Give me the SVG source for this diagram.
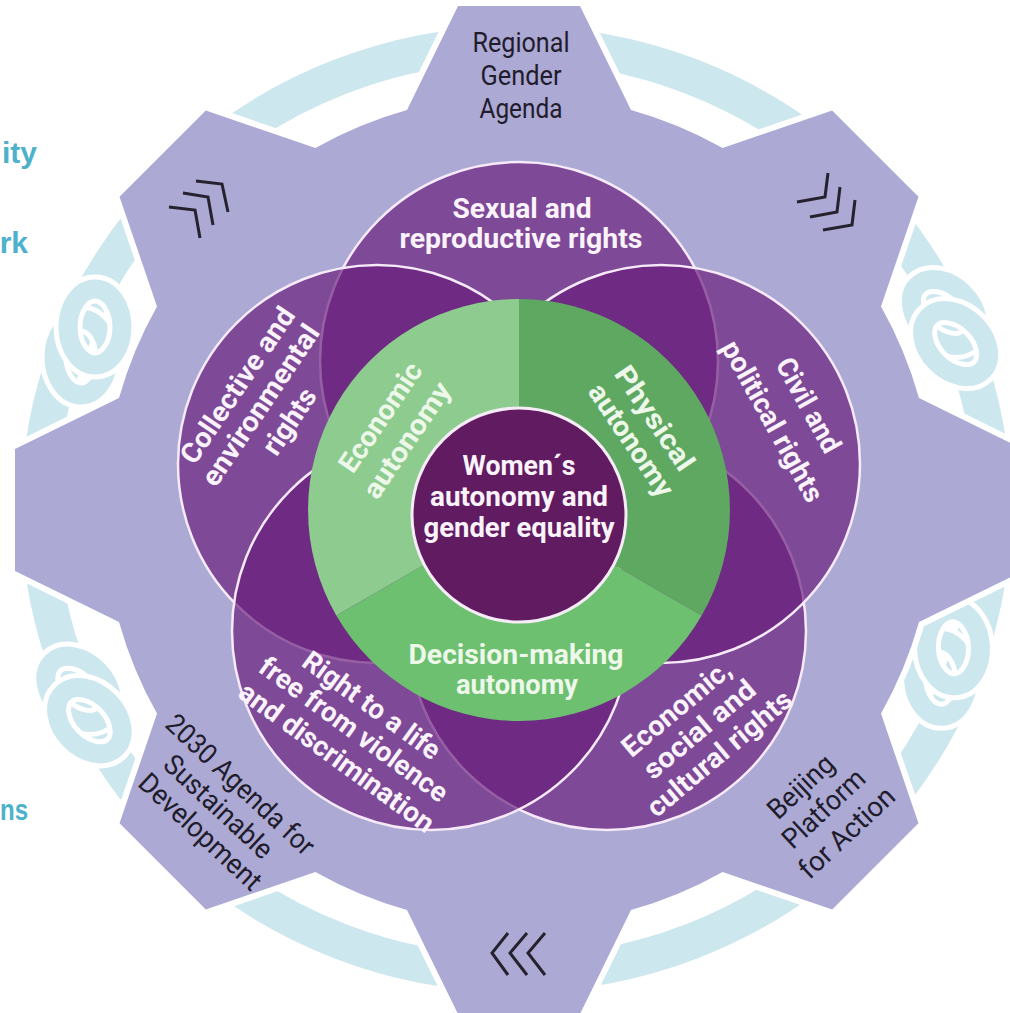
<svg xmlns="http://www.w3.org/2000/svg" xmlns:xlink="http://www.w3.org/1999/xlink" width="1010" height="1013" viewBox="0 0 1010 1013">
<style>
  .rope{fill:none;stroke:#cde7ee}
  .halo{fill:none;stroke:#ffffff}
  .ring{fill:#681c7a;fill-opacity:0.68;stroke:#f6e9f8;stroke-width:2.5}
  .lbl{font-family:Roboto,"Liberation Sans",sans-serif;font-weight:700;font-size:28px;fill:#fbf3fb;text-anchor:middle}
  .glbl{font-family:Roboto,"Liberation Sans",sans-serif;font-weight:700;font-size:28px;fill:#eef8ea;text-anchor:middle}
  .gtxt{font-family:Roboto,"Liberation Sans",sans-serif;font-weight:400;font-size:28px;fill:#1f1c2c;text-anchor:middle}
  .frag{font-family:"Liberation Sans",Arial,sans-serif;font-weight:700;font-size:30px;fill:#4db1cb}
  .chev{fill:none;stroke:#25222e;stroke-width:3;stroke-linejoin:miter}
</style>
<defs>
  <g id="knot">
    <g transform="rotate(-22)">
      <ellipse class="halo" cx="-15" cy="-7" rx="38" ry="27" stroke-width="29"/>
      <ellipse class="rope" cx="-15" cy="-7" rx="38" ry="27" stroke-width="19"/>
      <ellipse class="halo" cx="15" cy="7" rx="38" ry="27" stroke-width="29"/>
      <ellipse class="rope" cx="15" cy="7" rx="38" ry="27" stroke-width="19"/>
    </g>
  </g>
</defs>
<rect width="1010" height="1013" fill="#ffffff"/>

<g id="fragments">
  <text class="frag" x="37" y="163" text-anchor="end">ity</text>
  <text class="frag" x="28" y="253" text-anchor="end">rk</text>
  <text class="frag" x="0" y="820" textLength="28" lengthAdjust="spacingAndGlyphs">ns</text>
</g>

<g id="rope">
  <ellipse class="rope" cx="516" cy="509" rx="477" ry="465" stroke-width="36"/>
  <use xlink:href="#knot" transform="translate(88,342) rotate(-68)"/>
  <use xlink:href="#knot" transform="translate(84,705) rotate(68)"/>
  <use xlink:href="#knot" transform="translate(950,328) rotate(67)"/>
  <use xlink:href="#knot" transform="translate(947,663) rotate(-70)"/>
</g>

<g id="gear">
  <path d="M407,110 L458,6 L580,6 L631,110 A415.4,415.4 0 0 1 722.6,148 L832.2,110.5 L918.5,196.8 L881,306.4 A415.4,415.4 0 0 1 919,398 L1023,449 L1023,571 L919,622 A415.4,415.4 0 0 1 881,713.6 L918.5,823.2 L832.2,909.5 L722.6,872 A415.4,415.4 0 0 1 631,910 L580,1014 L458,1014 L407,910 A415.4,415.4 0 0 1 315.4,872 L205.8,909.5 L119.5,823.2 L157,713.6 A415.4,415.4 0 0 1 119,622 L15,571 L15,449 L119,398 A415.4,415.4 0 0 1 157,306.4 L119.5,196.8 L205.8,110.5 L315.4,148 A415.4,415.4 0 0 1 407,110 Z" fill="#aca9d4" stroke="#ffffff" stroke-width="12" paint-order="stroke"/>
</g>

<g id="node-regional">
  <text class="gtxt" x="521" y="52" textLength="97" lengthAdjust="spacingAndGlyphs" font-size="30">Regional</text>
  <text class="gtxt" x="521" y="85" textLength="81" lengthAdjust="spacingAndGlyphs" font-size="30">Gender</text>
  <text class="gtxt" x="521" y="118" textLength="83" lengthAdjust="spacingAndGlyphs" font-size="30">Agenda</text>
</g>
<g id="node-agenda2030">
  <text class="gtxt" transform="translate(240,785) rotate(43)" y="9" textLength="192" lengthAdjust="spacingAndGlyphs">2030 Agenda for</text>
  <text class="gtxt" transform="translate(218,807) rotate(43)" y="9" textLength="138" lengthAdjust="spacingAndGlyphs">Sustainable</text>
  <text class="gtxt" transform="translate(200,832) rotate(43)" y="9" textLength="157" lengthAdjust="spacingAndGlyphs">Development</text>
</g>
<g id="node-beijing">
  <text class="gtxt" transform="translate(801,787) rotate(-43)" y="9" textLength="80" lengthAdjust="spacingAndGlyphs">Beijing</text>
  <text class="gtxt" transform="translate(824,809) rotate(-43)" y="9" textLength="102" lengthAdjust="spacingAndGlyphs">Platform</text>
  <text class="gtxt" transform="translate(847,833) rotate(-43)" y="9" textLength="120" lengthAdjust="spacingAndGlyphs">for Action</text>
</g>

<g id="cycle-arrows">
  <polyline class="chev" points="196,181 222,184 228,212"/>
  <polyline class="chev" points="183,193 208,197 213,225"/>
  <polyline class="chev" points="169,207 195,210 200,238"/>
  <polyline class="chev" points="797,202 825,197 828,173"/>
  <polyline class="chev" points="810,217 837,212 840,187"/>
  <polyline class="chev" points="823,230 852,225 855,200"/>
  <polyline class="chev" points="508,933 492,953 508,975"/>
  <polyline class="chev" points="527,933 510,953 527,975"/>
  <polyline class="chev" points="545,933 528,953 545,975"/>
</g>

<g id="node-sexual">
  <circle class="ring" cx="519" cy="361" r="199"/>
  <text class="lbl" x="522" y="218" textLength="139" lengthAdjust="spacingAndGlyphs">Sexual and</text>
  <text class="lbl" x="521" y="248" textLength="243" lengthAdjust="spacingAndGlyphs">reproductive rights</text>
</g>
<g id="node-economic-rights">
  <circle class="ring" cx="607" cy="631" r="199"/>
  <text class="lbl" transform="translate(676,708) rotate(-40)" y="10" textLength="133" lengthAdjust="spacingAndGlyphs">Economic,</text>
  <text class="lbl" transform="translate(699,729) rotate(-40)" y="10" textLength="137" lengthAdjust="spacingAndGlyphs">social and</text>
  <text class="lbl" transform="translate(719,753) rotate(-40)" y="10" textLength="180" lengthAdjust="spacingAndGlyphs">cultural rights</text>
</g>
<g id="node-civil">
  <circle class="ring" cx="661" cy="464" r="199"/>
  <text class="lbl" transform="translate(809,405) rotate(61)" y="10" textLength="104" lengthAdjust="spacingAndGlyphs">Civil and</text>
  <text class="lbl" transform="translate(773,421) rotate(61)" y="10" textLength="180" lengthAdjust="spacingAndGlyphs">political rights</text>
</g>
<g id="node-collective">
  <circle class="ring" cx="377" cy="464" r="199"/>
  <text class="lbl" transform="translate(237,385) rotate(-56)" y="10" textLength="182" lengthAdjust="spacingAndGlyphs">Collective and</text>
  <text class="lbl" transform="translate(260,405) rotate(-56)" y="10" textLength="188" lengthAdjust="spacingAndGlyphs">environmental</text>
  <text class="lbl" transform="translate(289,421) rotate(-56)" y="10" textLength="74" lengthAdjust="spacingAndGlyphs">rights</text>
</g>
<g id="node-violence">
  <circle class="ring" cx="431" cy="631" r="199"/>
  <text class="lbl" transform="translate(372,705) rotate(36)" y="10" textLength="163" lengthAdjust="spacingAndGlyphs">Right to a life</text>
  <text class="lbl" transform="translate(354,729) rotate(36)" y="10" textLength="226" lengthAdjust="spacingAndGlyphs">free from violence</text>
  <text class="lbl" transform="translate(337,757) rotate(36)" y="10" textLength="234" lengthAdjust="spacingAndGlyphs">and discrimination</text>
</g>

<g id="node-physical-autonomy">
  <path d="M519,510 L519,299 A211,211 0 0 1 701.7,615.5 Z" fill="#5fa862"/>
  <text class="glbl" transform="translate(655,418) rotate(56)" y="10" textLength="120" lengthAdjust="spacingAndGlyphs">Physical</text>
  <text class="glbl" transform="translate(630,441) rotate(56)" y="8" textLength="130" lengthAdjust="spacingAndGlyphs">autonomy</text>
</g>
<g id="node-decision-autonomy">
  <path d="M519,510 L701.7,615.5 A211,211 0 0 1 336.3,615.5 Z" fill="#6cc070"/>
  <text class="glbl" x="516" y="664" font-size="26" textLength="215" lengthAdjust="spacingAndGlyphs">Decision-making</text>
  <text class="glbl" x="517" y="694" font-size="26" textLength="122" lengthAdjust="spacingAndGlyphs">autonomy</text>
</g>
<g id="node-economic-autonomy">
  <path d="M519,510 L336.3,615.5 A211,211 0 0 1 519,299 Z" fill="#8dcc8e"/>
  <text class="glbl" transform="translate(380,417) rotate(-56)" y="10" textLength="126" lengthAdjust="spacingAndGlyphs">Economic</text>
  <text class="glbl" transform="translate(408,441) rotate(-56)" y="8" textLength="134" lengthAdjust="spacingAndGlyphs">autonomy</text>
</g>

<g id="node-center">
  <circle cx="519" cy="515" r="107" fill="#611b60" stroke="#f6ecf7" stroke-width="3"/>
  <text class="lbl" x="519" y="475" textLength="113" lengthAdjust="spacingAndGlyphs">Women´s</text>
  <text class="lbl" x="519" y="506" textLength="178" lengthAdjust="spacingAndGlyphs">autonomy and</text>
  <text class="lbl" x="519" y="537" textLength="191" lengthAdjust="spacingAndGlyphs">gender equality</text>
</g>
</svg>
